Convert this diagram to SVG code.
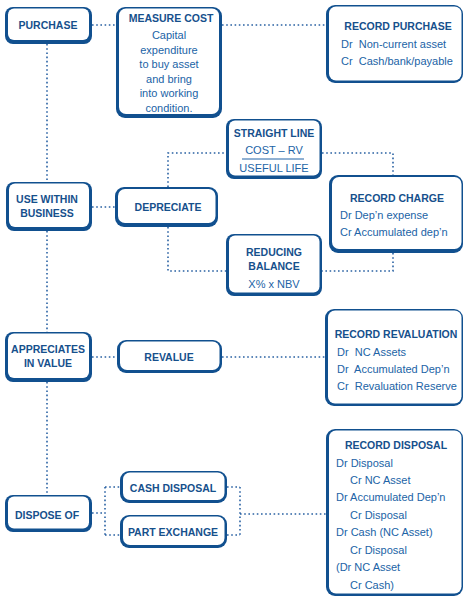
<svg xmlns="http://www.w3.org/2000/svg" width="469" height="600" viewBox="0 0 469 600">
<style>
.o{fill:#11508f}
.i{fill:#fff}
.h{font-family:"Liberation Sans",Arial,sans-serif;font-weight:bold;font-size:10.5px;fill:#16508c;text-anchor:middle}
.t{font-family:"Liberation Sans",Arial,sans-serif;font-size:11px;fill:#2163a6}
.c{text-anchor:middle}
.d{fill:none;stroke:#2a62a3;stroke-width:1.6;stroke-dasharray:1.6 2.6}
</style>
<rect width="469" height="600" fill="#fff"/>
<g id="connectors">
<path class="d" d="M92 25H116M222 25H326"/>
<path class="d" d="M47 44V182M47 231V332M47 382V494"/>
<path class="d" d="M92 207H115"/>
<path class="d" d="M168 187V153H226M168 227V271H226"/>
<path class="d" d="M322 153H393V175M393 253V271H322"/>
<path class="d" d="M92 357H117M222 357H325"/>
<path class="d" d="M92 513H105M105 487V535M105 487H120M105 535H120"/>
<path class="d" d="M227 487H240M227 535H240M240 487V535M240 514H326"/>
</g>
<g id="purchase">
<rect class="o" x="5" y="7" width="87" height="37" rx="8"/>
<rect class="i" x="8" y="8.5" width="81" height="31.5" rx="6"/>
<text class="h" x="48" y="29">PURCHASE</text>
</g>
<g id="measure-cost">
<rect class="o" x="116" y="7" width="106" height="111" rx="9"/>
<rect class="i" x="119" y="8.5" width="100" height="105.5" rx="7"/>
<text class="h" x="171" y="22">MEASURE COST</text>
<text class="t c" x="169" y="39">Capital</text>
<text class="t c" x="169" y="53.5">expenditure</text>
<text class="t c" x="169" y="68">to buy asset</text>
<text class="t c" x="169" y="82.5">and bring</text>
<text class="t c" x="169" y="97">into working</text>
<text class="t c" x="169" y="111.5">condition.</text>
</g>
<g id="record-purchase">
<rect class="o" x="326" y="5" width="137" height="78" rx="9"/>
<rect class="i" x="329" y="6.5" width="132.5" height="74" rx="7"/>
<text class="h" x="398" y="30">RECORD PURCHASE</text>
<text class="t" x="341" y="48" xml:space="preserve">Dr  Non-current asset</text>
<text class="t" x="341" y="65" xml:space="preserve">Cr  Cash/bank/payable</text>
</g>
<g id="use-within-business">
<rect class="o" x="6" y="182" width="86" height="49" rx="8"/>
<rect class="i" x="9" y="183.5" width="80" height="43.5" rx="6"/>
<text class="h" x="47" y="203">USE WITHIN</text>
<text class="h" x="47" y="217">BUSINESS</text>
</g>
<g id="depreciate">
<rect class="o" x="115" y="187" width="103" height="40" rx="9"/>
<rect class="i" x="118" y="189" width="97.5" height="34" rx="7"/>
<text class="h" x="168" y="211">DEPRECIATE</text>
</g>
<g id="straight-line">
<rect class="o" x="226" y="119" width="96" height="60" rx="8"/>
<rect class="i" x="229" y="120.5" width="90.5" height="55" rx="6"/>
<text class="h" x="274" y="137">STRAIGHT LINE</text>
<text class="t c" x="274" y="154">COST – RV</text>
<line x1="242" y1="159" x2="304" y2="159" stroke="#2163a6" stroke-width="1"/>
<text class="t c" x="274" y="172">USEFUL LIFE</text>
</g>
<g id="record-charge">
<rect class="o" x="329" y="175" width="134" height="78" rx="9"/>
<rect class="i" x="332" y="177" width="129.5" height="72" rx="7"/>
<text class="h" x="397" y="202">RECORD CHARGE</text>
<text class="t" x="340" y="219">Dr Dep’n expense</text>
<text class="t" x="340" y="236">Cr Accumulated dep’n</text>
</g>
<g id="reducing-balance">
<rect class="o" x="226" y="234" width="96" height="62" rx="8"/>
<rect class="i" x="229" y="235.5" width="90.5" height="57" rx="6"/>
<text class="h" x="274" y="256">REDUCING</text>
<text class="h" x="274" y="270">BALANCE</text>
<text class="t c" x="274" y="288">X% x NBV</text>
</g>
<g id="appreciates-in-value">
<rect class="o" x="5" y="332" width="87" height="50" rx="8"/>
<rect class="i" x="8" y="333.5" width="81" height="44.5" rx="6"/>
<text class="h" x="48" y="353">APPRECIATES</text>
<text class="h" x="48" y="367">IN VALUE</text>
</g>
<g id="revalue">
<rect class="o" x="117" y="340" width="105" height="33" rx="9"/>
<rect class="i" x="120" y="341.5" width="99.5" height="28.5" rx="7"/>
<text class="h" x="169" y="361">REVALUE</text>
</g>
<g id="record-revaluation">
<rect class="o" x="325" y="309" width="138" height="97" rx="9"/>
<rect class="i" x="328" y="310.5" width="133.5" height="93" rx="7"/>
<text class="h" x="396" y="338">RECORD REVALUATION</text>
<text class="t" x="337" y="356" xml:space="preserve">Dr  NC Assets</text>
<text class="t" x="337" y="373" xml:space="preserve">Dr  Accumulated Dep’n</text>
<text class="t" x="337" y="390" xml:space="preserve">Cr  Revaluation Reserve</text>
</g>
<g id="dispose-of">
<rect class="o" x="5" y="495" width="87" height="37" rx="8"/>
<rect class="i" x="8" y="496.5" width="81" height="32" rx="6"/>
<text class="h" x="47" y="519">DISPOSE OF</text>
</g>
<g id="cash-disposal">
<rect class="o" x="120" y="471" width="107" height="32" rx="9"/>
<rect class="i" x="123" y="472.5" width="101.5" height="27.5" rx="7"/>
<text class="h" x="173" y="492">CASH DISPOSAL</text>
</g>
<g id="part-exchange">
<rect class="o" x="120" y="515" width="107" height="33" rx="9"/>
<rect class="i" x="123" y="516.5" width="101.5" height="28.5" rx="7"/>
<text class="h" x="173" y="536">PART EXCHANGE</text>
</g>
<g id="record-disposal">
<rect class="o" x="326" y="429" width="137" height="167" rx="9"/>
<rect class="i" x="329" y="430.5" width="132.5" height="163" rx="7"/>
<text class="h" x="396" y="449">RECORD DISPOSAL</text>
<text class="t" x="336" y="467">Dr Disposal</text>
<text class="t" x="350" y="484">Cr NC Asset</text>
<text class="t" x="336" y="501">Dr Accumulated Dep’n</text>
<text class="t" x="350" y="519">Cr Disposal</text>
<text class="t" x="336" y="536">Dr Cash (NC Asset)</text>
<text class="t" x="350" y="554">Cr Disposal</text>
<text class="t" x="336" y="571">(Dr NC Asset</text>
<text class="t" x="350" y="589">Cr Cash)</text>
</g>
</svg>
